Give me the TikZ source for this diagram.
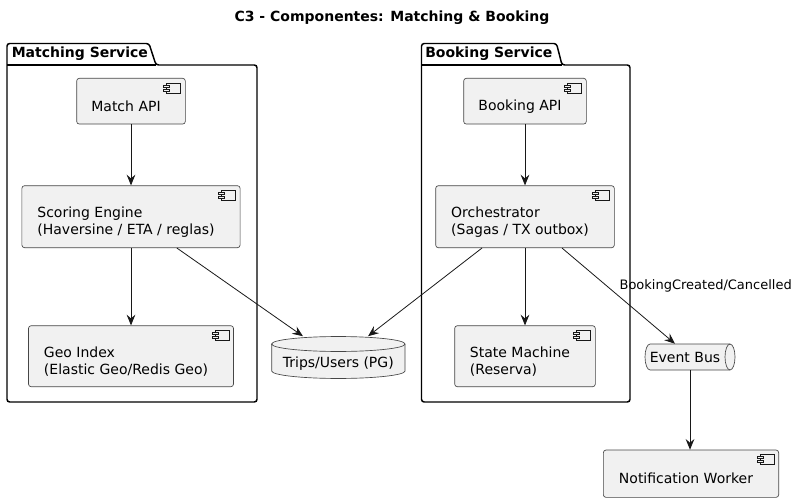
\documentclass[tikz,border=0pt]{standalone}
\usepackage{fontspec}
\setmainfont{DejaVu Sans}
\usetikzlibrary{arrows.meta}
\definecolor{compfill}{HTML}{F1F1F1}
\definecolor{compline}{HTML}{181818}

% small component glyph in the top right corner of a box
\newcommand{\compicon}[1]{%
  \draw[compline, line width=0.4pt, fill=compfill] ([shift={(-19,5)}]#1.north east) rectangle ([shift={(-5,15)}]#1.north east);
  \draw[compline, line width=0.4pt, fill=compfill] ([shift={(-22,7)}]#1.north east) rectangle ([shift={(-16,9)}]#1.north east);
  \draw[compline, line width=0.4pt, fill=compfill] ([shift={(-22,11)}]#1.north east) rectangle ([shift={(-16,13)}]#1.north east);
}

\begin{document}
\begin{tikzpicture}[x=0.75pt, y=-0.75pt,
    comp/.style={draw=compline!80, fill=compfill, line width=0.5pt, rounded corners=2pt, inner sep=0pt},
    comptext/.style={font=\fontsize{10.5}{12.75}\selectfont, align=left, inner sep=0pt},
    pkg/.style={draw=black, line width=1.1pt, rounded corners=2pt},
    pkgtext/.style={font=\fontsize{10.5}{12.75}\selectfont\bfseries, inner sep=0pt},
    flow/.style={draw=compline, line width=0.6pt, -{Stealth[length=8pt, width=6.5pt, inset=2.8pt]}},
    flowlabel/.style={font=\fontsize{9.75}{11.7}\selectfont, inner sep=0pt}]

  \useasboundingbox (0,0) rectangle (798,502);

  % Title
  \node[font=\fontsize{10.5}{12.75}\selectfont\bfseries] (title) at (392,18) {C3 - Componentes: Matching \& Booking};

  % Packages (tab + body)
  \draw[pkg] (7,402) -- (7,43.5) -- (149,43.5) -- (156,65) -- (257,65) -- (257,402) -- cycle;
  \draw[line width=1.1pt] (7,65) -- (156,65);
  \node[pkgtext, anchor=west] (matchpkg) at (11.5,53.5) {Matching Service};

  \draw[pkg] (421.5,402) -- (421.5,43.5) -- (556.5,43.5) -- (562,65) -- (630,65) -- (630,402) -- cycle;
  \draw[line width=1.1pt] (421.5,65) -- (562,65);
  \node[pkgtext, anchor=west] (bookpkg) at (425,53.5) {Booking Service};

  % Matching components
  \node[comp, minimum width=81.5pt, minimum height=34.3pt] (match) at (131,101.2) {};
  \node[comp, minimum width=163.7pt, minimum height=46.5pt] (scoring) at (131,216.7) {};
  \node[comp, minimum width=153.75pt, minimum height=45.75pt] (geo) at (131,356.2) {};

  % Booking components
  \node[comp, minimum width=92pt, minimum height=34.3pt] (booking) at (525,101.2) {};
  \node[comp, minimum width=134pt, minimum height=46.5pt] (orch) at (525,216.7) {};
  \node[comp, minimum width=105.5pt, minimum height=45.75pt] (state) at (525,356.2) {};

  % Worker outside packages
  \node[comp, minimum width=131.5pt, minimum height=35.5pt] (notif) at (691,473.7) {};

  \foreach \c in {match,scoring,geo,booking,orch,state,notif} {
    \compicon{\c}
  }

  % Component texts
  \node[comptext] at ([shift={(-5,5)}]match.center) {Match API};
  \node[comptext] at ([shift={(-5,5)}]scoring.center) {Scoring Engine\\(Haversine / ETA / reglas)};
  \node[comptext] at ([shift={(-5,5)}]geo.center) {Geo Index\\(Elastic Geo/Redis Geo)};
  \node[comptext] at ([shift={(-5,5)}]booking.center) {Booking API};
  \node[comptext] at ([shift={(-5,5)}]orch.center) {Orchestrator\\(Sagas / TX outbox)};
  \node[comptext] at ([shift={(-5,5)}]state.center) {State Machine\\(Reserva)};
  \node[comptext] at ([shift={(-5,5)}]notif.center) {Notification Worker};

  % Database Trips/Users
  \fill[compfill] (271.7,344) -- (271.7,371) arc[start angle=180, end angle=360, x radius=50pt, y radius=5.6pt]
    -- (405,344) arc[start angle=0, end angle=180, x radius=50pt, y radius=5.6pt] -- cycle;
  \draw[compline!80, line width=0.5pt] (271.7,344) -- (271.7,371) arc[start angle=180, end angle=360, x radius=50pt, y radius=5.6pt]
    -- (405,344) arc[start angle=0, end angle=180, x radius=50pt, y radius=5.6pt] -- cycle;
  \draw[compline!80, line width=0.5pt] (271.7,344) arc[start angle=180, end angle=360, x radius=50pt, y radius=5.6pt];
  \node[inner sep=0pt, minimum width=100pt, minimum height=31.5pt] (trips) at (338.3,357.5) {};
  \node[comptext] at (338.3,364) {Trips/Users (PG)};

  % Queue Event Bus
  \draw[compline!80, fill=compfill, line width=0.5pt] (650,344) -- (730,344) arc[start angle=90, end angle=-90, x radius=3.75pt, y radius=9.75pt]
    -- (650,370) arc[start angle=270, end angle=90, x radius=3.75pt, y radius=9.75pt] -- cycle;
  \draw[compline!80, line width=0.5pt] (730,344) arc[start angle=90, end angle=270, x radius=3.75pt, y radius=9.75pt];
  \node[inner sep=0pt, minimum width=67.5pt, minimum height=19.5pt] (bus) at (690,357) {};
  \node[comptext] at ([xshift=-3.75pt]bus.center) {Event Bus};

  % Connectors
  \draw[flow] (match.south) -- (scoring.north);
  \draw[flow] (scoring.south) -- (geo.north);
  \draw[flow] ([xshift=34.4pt]scoring.south) -- ([xshift=-26.5pt]trips.north);
  \draw[flow] (booking.south) -- (orch.north);
  \draw[flow] (orch.south) -- (state.north);
  \draw[flow] ([xshift=-32.25pt]orch.south) -- ([xshift=22.3pt]trips.north);
  \draw[flow] ([xshift=27.75pt]orch.south) -- node[flowlabel, pos=0.4, anchor=west, xshift=9pt] {BookingCreated/Cancelled} ([xshift=-11.25pt]bus.north);
  \draw[flow] (bus.south) -- (bus.south |- notif.north);
\end{tikzpicture}
\end{document}
